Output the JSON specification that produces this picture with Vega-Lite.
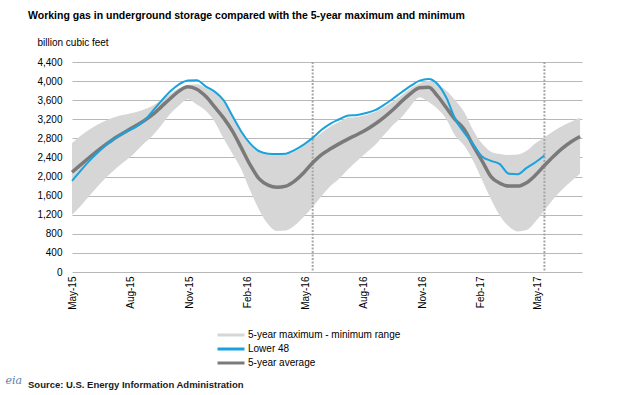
{
  "$schema": "https://vega.github.io/schema/vega-lite/v6.json",
  "width": 510,
  "height": 210,
  "autosize": {"type": "none"},
  "padding": {"left": 72, "top": 62, "right": 56, "bottom": 123},
  "background": "white",
  "title": {
    "text": "Working gas in underground storage compared with the 5-year maximum and minimum",
    "subtitle": "Source:  U.S. Energy Information Administration",
    "anchor": "start",
    "frame": "group",
    "dx": -44,
    "dy": 362,
    "offset": 10,
    "fontSize": 10.5,
    "fontWeight": "bold",
    "color": "#000000",
    "subtitleFontSize": 9.5,
    "subtitleColor": "#1a1a1a",
    "subtitleFontWeight": "bold",
    "subtitlePadding": 358
  },
  "config": {
    "font": "Liberation Sans",
    "view": {"stroke": null}
  },
  "datasets": {
    "storage": [
      {"date": "2015-05-01", "l48": 1910, "avg": 2090, "max": 2700, "min": 1200},
      {"date": "2015-05-15", "l48": 2130, "avg": 2250, "max": 2860, "min": 1390},
      {"date": "2015-05-29", "l48": 2340, "avg": 2410, "max": 2990, "min": 1610},
      {"date": "2015-06-12", "l48": 2520, "avg": 2560, "max": 3100, "min": 1820},
      {"date": "2015-06-26", "l48": 2690, "avg": 2700, "max": 3190, "min": 2010},
      {"date": "2015-07-10", "l48": 2820, "avg": 2830, "max": 3260, "min": 2180},
      {"date": "2015-07-24", "l48": 2930, "avg": 2940, "max": 3300, "min": 2330},
      {"date": "2015-08-07", "l48": 3020, "avg": 3050, "max": 3340, "min": 2490},
      {"date": "2015-08-21", "l48": 3150, "avg": 3160, "max": 3400, "min": 2680},
      {"date": "2015-09-04", "l48": 3360, "avg": 3290, "max": 3480, "min": 2850},
      {"date": "2015-09-18", "l48": 3580, "avg": 3460, "max": 3600, "min": 3070},
      {"date": "2015-10-02", "l48": 3780, "avg": 3630, "max": 3730, "min": 3310},
      {"date": "2015-10-16", "l48": 3930, "avg": 3790, "max": 3850, "min": 3490},
      {"date": "2015-10-30", "l48": 4010, "avg": 3880, "max": 3920, "min": 3620},
      {"date": "2015-11-13", "l48": 4020, "avg": 3830, "max": 3935, "min": 3510},
      {"date": "2015-11-27", "l48": 3890, "avg": 3680, "max": 3860, "min": 3380},
      {"date": "2015-12-11", "l48": 3780, "avg": 3460, "max": 3750, "min": 3150},
      {"date": "2015-12-25", "l48": 3600, "avg": 3230, "max": 3570, "min": 2800},
      {"date": "2016-01-08", "l48": 3270, "avg": 2950, "max": 3240, "min": 2480},
      {"date": "2016-01-22", "l48": 2940, "avg": 2600, "max": 2910, "min": 2150},
      {"date": "2016-02-05", "l48": 2690, "avg": 2240, "max": 2660, "min": 1700},
      {"date": "2016-02-19", "l48": 2530, "avg": 1950, "max": 2510, "min": 1300},
      {"date": "2016-03-04", "l48": 2480, "avg": 1820, "max": 2460, "min": 1000},
      {"date": "2016-03-18", "l48": 2470, "avg": 1775, "max": 2450, "min": 860},
      {"date": "2016-04-01", "l48": 2480, "avg": 1800, "max": 2460, "min": 870},
      {"date": "2016-04-15", "l48": 2560, "avg": 1910, "max": 2530, "min": 980},
      {"date": "2016-04-29", "l48": 2670, "avg": 2080, "max": 2640, "min": 1160},
      {"date": "2016-05-13", "l48": 2810, "avg": 2290, "max": 2770, "min": 1360},
      {"date": "2016-05-27", "l48": 2980, "avg": 2460, "max": 2920, "min": 1590},
      {"date": "2016-06-10", "l48": 3110, "avg": 2580, "max": 3050, "min": 1800},
      {"date": "2016-06-24", "l48": 3200, "avg": 2690, "max": 3150, "min": 1960},
      {"date": "2016-07-08", "l48": 3280, "avg": 2790, "max": 3230, "min": 2160},
      {"date": "2016-07-22", "l48": 3290, "avg": 2880, "max": 3250, "min": 2330},
      {"date": "2016-08-05", "l48": 3330, "avg": 2980, "max": 3290, "min": 2500},
      {"date": "2016-08-19", "l48": 3390, "avg": 3100, "max": 3350, "min": 2660},
      {"date": "2016-09-02", "l48": 3500, "avg": 3240, "max": 3450, "min": 2870},
      {"date": "2016-09-16", "l48": 3630, "avg": 3400, "max": 3570, "min": 3080},
      {"date": "2016-09-30", "l48": 3770, "avg": 3580, "max": 3710, "min": 3250},
      {"date": "2016-10-14", "l48": 3900, "avg": 3740, "max": 3850, "min": 3480},
      {"date": "2016-10-28", "l48": 4010, "avg": 3860, "max": 3950, "min": 3660},
      {"date": "2016-11-11", "l48": 4045, "avg": 3870, "max": 4000, "min": 3560},
      {"date": "2016-11-25", "l48": 3940, "avg": 3690, "max": 3930, "min": 3420},
      {"date": "2016-12-09", "l48": 3650, "avg": 3440, "max": 3800, "min": 3200},
      {"date": "2016-12-23", "l48": 3200, "avg": 3190, "max": 3600, "min": 2850},
      {"date": "2017-01-06", "l48": 2920, "avg": 2990, "max": 3350, "min": 2650},
      {"date": "2017-01-20", "l48": 2680, "avg": 2650, "max": 2970, "min": 2330},
      {"date": "2017-02-03", "l48": 2420, "avg": 2330, "max": 2690, "min": 1930},
      {"date": "2017-02-17", "l48": 2330, "avg": 2000, "max": 2520, "min": 1530},
      {"date": "2017-03-03", "l48": 2260, "avg": 1860, "max": 2470, "min": 1180},
      {"date": "2017-03-17", "l48": 2060, "avg": 1800, "max": 2450, "min": 960},
      {"date": "2017-03-31", "l48": 2050, "avg": 1800, "max": 2460, "min": 850},
      {"date": "2017-04-14", "l48": 2180, "avg": 1870, "max": 2540, "min": 880},
      {"date": "2017-04-28", "l48": 2300, "avg": 2030, "max": 2700, "min": 1060},
      {"date": "2017-05-12", "l48": 2440, "avg": 2230, "max": 2820, "min": 1290},
      {"date": "2017-05-26", "l48": null, "avg": 2420, "max": 2950, "min": 1530},
      {"date": "2017-06-09", "l48": null, "avg": 2590, "max": 3060, "min": 1730},
      {"date": "2017-06-23", "l48": null, "avg": 2730, "max": 3150, "min": 1900},
      {"date": "2017-07-07", "l48": null, "avg": 2840, "max": 3230, "min": 2060}
    ],
    "markers": [
      {"date": "2016-05-13"},
      {"date": "2017-05-12"}
    ]
  },
  "encoding": {
    "x": {
      "field": "date",
      "type": "temporal",
      "scale": {
        "type": "utc",
        "domain": [
          {"year": 2015, "month": 5, "date": 1, "utc": true},
          {"year": 2017, "month": 7, "date": 10, "utc": true}
        ]
      },
      "axis": {
        "values": [
          {"year": 2015, "month": 5, "date": 1, "utc": true},
          {"year": 2015, "month": 8, "date": 1, "utc": true},
          {"year": 2015, "month": 11, "date": 1, "utc": true},
          {"year": 2016, "month": 2, "date": 1, "utc": true},
          {"year": 2016, "month": 5, "date": 1, "utc": true},
          {"year": 2016, "month": 8, "date": 1, "utc": true},
          {"year": 2016, "month": 11, "date": 1, "utc": true},
          {"year": 2017, "month": 2, "date": 1, "utc": true},
          {"year": 2017, "month": 5, "date": 1, "utc": true}
        ],
        "tickCount": 20,
        "format": "%b-%y",
        "labelAngle": -90,
        "labelAlign": "right",
        "labelBaseline": "middle",
        "labelFontSize": 10,
        "labelColor": "#000000",
        "labelPadding": 4,
        "labelFlush": false,
        "labelOverlap": false,
        "ticks": false,
        "domain": false,
        "grid": false,
        "title": "eia",
        "titleFont": "DejaVu Serif",
        "titleFontStyle": "italic",
        "titleFontWeight": "normal",
        "titleFontSize": 11,
        "titleColor": "#5b7fa8",
        "titleAnchor": null,
        "titleAlign": "left",
        "titleBaseline": "middle",
        "titleX": -67,
        "titleY": 108
      }
    }
  },
  "layer": [
    {
      "data": {"name": "storage"},
      "mark": {"type": "area", "interpolate": "monotone", "opacity": 1},
      "encoding": {
        "y": {
          "field": "max",
          "type": "quantitative",
          "scale": {"domain": [0, 4400], "nice": false, "zero": true},
          "axis": {
            "values": [0, 400, 800, 1200, 1600, 2000, 2400, 2800, 3200, 3600, 4000, 4400],
            "tickCount": 20,
            "format": ",.0f",
            "labelOverlap": false,
            "grid": true,
            "gridColor": "#b8b8b8",
            "gridWidth": 1,
            "ticks": false,
            "domain": false,
            "labelFontSize": 10,
            "labelColor": "#000000",
            "labelPadding": 10,
            "title": "billion cubic feet",
            "titleAngle": 0,
            "titleFontSize": 10,
            "titleFontWeight": "normal",
            "titleColor": "#000000",
            "titleAnchor": null,
            "titleAlign": "left",
            "titleBaseline": "middle",
            "titleX": -35,
            "titleY": -20
          }
        },
        "y2": {"field": "min"},
        "color": {
          "datum": "5-year maximum - minimum range",
          "type": "nominal",
          "scale": {
            "domain": ["5-year maximum - minimum range", "Lower 48", "5-year average"],
            "range": ["#d6d6d6", "#1ba1dc", "#7a7a7a"]
          },
          "legend": {
            "title": null,
            "orient": "none",
            "legendX": 153,
            "legendY": 267,
            "direction": "vertical",
            "symbolType": "M-3,0H3",
            "symbolSize": 81,
            "symbolStrokeWidth": 3,
            "labelOffset": 11,
            "labelFontSize": 10,
            "labelColor": "#000000",
            "rowPadding": 2,
            "padding": 0,
            "labelLimit": 300,
            "encode": {
              "symbols": {
                "update": {
                  "strokeWidth": {"signal": "datum.value === 'Lower 48' ? 2 : datum.value === '5-year average' ? 3.5 : 5"}
                }
              }
            }
          }
        }
      }
    },
    {
      "data": {"name": "markers"},
      "mark": {"type": "rule", "color": "#a6a6a6", "strokeWidth": 2, "strokeDash": [2, 1.5]},
      "encoding": {
        "x": {"field": "date", "type": "temporal"}
      }
    },
    {
      "data": {"name": "storage"},
      "mark": {"type": "line", "interpolate": "monotone", "strokeWidth": 3.5},
      "encoding": {
        "y": {"field": "avg", "type": "quantitative"},
        "color": {"datum": "5-year average", "type": "nominal"}
      }
    },
    {
      "data": {"name": "storage"},
      "mark": {"type": "line", "interpolate": "monotone", "strokeWidth": 2},
      "encoding": {
        "y": {"field": "l48", "type": "quantitative"},
        "color": {"datum": "Lower 48", "type": "nominal"}
      }
    }
  ]
}
